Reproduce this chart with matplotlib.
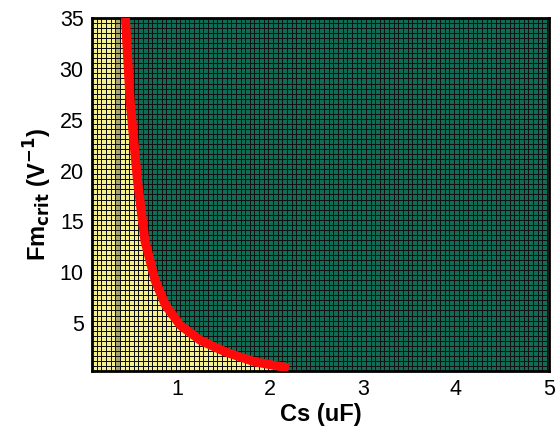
import numpy as np
import matplotlib
matplotlib.use("Agg")
import matplotlib.pyplot as plt
from matplotlib.colors import ListedColormap

plt.rcParams['font.family'] = ['Liberation Sans', 'DejaVu Sans']

# Critical curve (Cs in uF, Fm_crit in V^-1)
curve_cs = [0.44, 0.49, 0.57, 0.65, 0.76, 0.87, 1.03, 1.25, 1.52, 1.84, 2.2]
curve_fm = [35.0, 26.9, 19.0, 13.1, 9.2, 6.8, 4.8, 3.3, 2.16, 1.18, 0.6]

x_ticks = [1, 2, 3, 4, 5]
y_ticks = [5, 10, 15, 20, 25, 30, 35]
x_limits = (0.08, 5.0)
y_limits = (0.3, 35.0)

# grid cell edges of the surface
x_edges = np.arange(0.08, 5.0 + 1e-9, 0.05)
y_edges = np.linspace(0.3, 35.0, 71)

xc = 0.5 * (x_edges[:-1] + x_edges[1:])
yc = 0.5 * (y_edges[:-1] + y_edges[1:])
XC, YC = np.meshgrid(xc, yc)

# curve value at each cell centre (interpolating in log space)
lc = np.interp(np.log(XC), np.log(curve_cs), np.log(curve_fm),
               left=np.log(1e6), right=np.log(1e-6))
state = np.where(YC < np.exp(lc), 0, 2)
# slightly darker column seen in the yellow region
col = np.argmin(np.abs(xc - 0.36))
state[:, col] = np.where(state[:, col] == 0, 1, state[:, col])

cmap = ListedColormap(['#f6f08c', '#a8a46e', '#0f6d55'])

fig = plt.figure(figsize=(5.56, 4.38), dpi=100)
ax = fig.add_axes([0.1655, 0.153, 0.8215, 0.806])
ax.pcolormesh(x_edges, y_edges, state, cmap=cmap, vmin=0, vmax=2,
              edgecolors='#111111', linewidth=0.7)
ax.plot(curve_cs, curve_fm, color='#ff0a0a', linewidth=6.5,
        solid_capstyle='butt', solid_joinstyle='round', zorder=3)

ax.set_xlim(*x_limits)
ax.set_ylim(*y_limits)
ax.set_xticks(x_ticks)
ax.set_yticks(y_ticks)
ax.tick_params(length=0, labelsize=15.5, pad=6)
for s in ax.spines.values():
    s.set_linewidth(2)
    s.set_color('black')

ax.set_xlabel('Cs (uF)', fontsize=17, fontweight='bold', labelpad=2)
ax.set_ylabel(r'Fm$_{\mathbf{crit}}$ (V$^{\mathbf{-1}}$)', fontsize=17,
              fontweight='bold', labelpad=4)

fig.savefig('out.png', dpi=100)
